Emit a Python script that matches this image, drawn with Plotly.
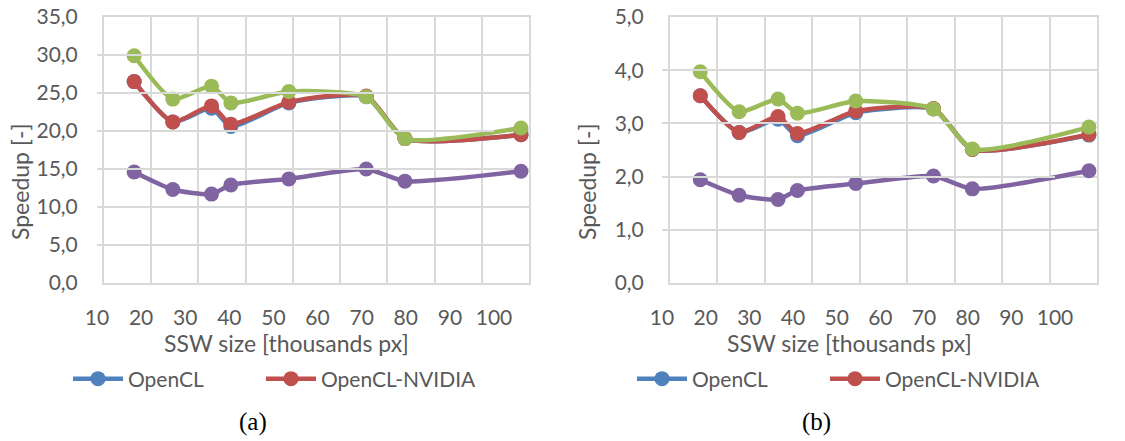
import plotly.graph_objects as go

W, H = 1125, 441

# SSW sizes in thousands of px
ssw = [16.384, 24.576, 32.768, 36.864, 49.152, 65.536, 73.728, 98.304]

# (a)
a_opencl = [26.5, 21.2, 23.0, 20.6, 23.7, 24.5, 19.0, 19.5]
a_nvidia = [26.5, 21.2, 23.3, 20.9, 23.8, 24.6, 19.0, 19.5]
a_green = [29.9, 24.2, 25.9, 23.7, 25.2, 24.5, 19.0, 20.4]
a_purple = [14.6, 12.3, 11.7, 12.9, 13.7, 15.0, 13.4, 14.7]

# (b)
b_opencl = [3.52, 2.83, 3.08, 2.77, 3.20, 3.27, 2.51, 2.78]
b_nvidia = [3.52, 2.83, 3.13, 2.81, 3.23, 3.28, 2.51, 2.79]
b_green = [3.97, 3.22, 3.46, 3.19, 3.42, 3.27, 2.52, 2.93]
b_purple = [1.94, 1.65, 1.57, 1.74, 1.87, 2.01, 1.77, 2.11]

x_ticks = [10, 20, 30, 40, 50, 60, 70, 80, 90, 100]

C_BLUE = "#4F81BD"
C_RED = "#C0504D"
C_GREEN = "#9BBB59"
C_PURPLE = "#8064A2"
GRID = "#D9D9D9"
TXT = "#595959"
FONT = "Lato"

def px_x(p):
    return p / W

def px_y(p):
    return (H - p) / H

fig = go.Figure()

def add_series(xa, ya, vals, color, name, show, legend):
    fig.add_trace(go.Scatter(
        x=ssw, y=vals, xaxis=xa, yaxis=ya, name=name,
        mode="lines+markers",
        line=dict(color=color, width=4.5, shape="spline", smoothing=0.6),
        marker=dict(color=color, size=15),
        showlegend=show, legend=legend, hoverinfo="skip",
    ))

add_series("x", "y", a_opencl, C_BLUE, "OpenCL", True, "legend")
add_series("x", "y", a_nvidia, C_RED, "OpenCL-NVIDIA", True, "legend2")
add_series("x", "y", a_green, C_GREEN, "series3", False, "legend")
add_series("x", "y", a_purple, C_PURPLE, "series4", False, "legend")

add_series("x2", "y2", b_opencl, C_BLUE, "OpenCL", True, "legend3")
add_series("x2", "y2", b_nvidia, C_RED, "OpenCL-NVIDIA", True, "legend4")
add_series("x2", "y2", b_green, C_GREEN, "series3", False, "legend3")
add_series("x2", "y2", b_purple, C_PURPLE, "series4", False, "legend3")

# invisible traces carrying the tick-label axes
fig.add_trace(go.Scatter(x=[10, 100], y=[-50, -50], xaxis="x3", yaxis="y",
                         mode="lines", opacity=0, showlegend=False, hoverinfo="skip"))
fig.add_trace(go.Scatter(x=[10, 100], y=[-50, -50], xaxis="x4", yaxis="y2",
                         mode="lines", opacity=0, showlegend=False, hoverinfo="skip"))

grid_x = dict(range=[10, 100], dtick=10, tick0=10, showgrid=True, gridcolor=GRID,
              gridwidth=2, showline=True, linecolor=GRID, linewidth=2, mirror=True,
              showticklabels=False, ticks="", zeroline=False)
grid_y = dict(showgrid=True, gridcolor=GRID, gridwidth=2, showline=True,
              linecolor=GRID, linewidth=2, mirror=True, ticks="", zeroline=False,
              tickformat=".1f", tickfont=dict(family=FONT, size=21, color=TXT),
              ticklabelstandoff=20)
lab_x = dict(range=[10, 100], tickvals=x_ticks, showgrid=False, showline=False,
             ticks="", zeroline=False, anchor="free", position=px_y(283),
             tickfont=dict(family=FONT, size=21, color=TXT), ticklabelstandoff=20)

def leg(xp):
    return dict(orientation="h", x=px_x(xp), xanchor="left", y=px_y(379), yanchor="middle",
                font=dict(family=FONT, size=21, color=TXT),
                bgcolor="rgba(0,0,0,0)", itemwidth=50)

fig.update_layout(
    width=W, height=H, margin=dict(l=0, r=0, t=0, b=0),
    paper_bgcolor="white", plot_bgcolor="rgba(0,0,0,0)", template="none",
    separators=", ",
    xaxis=dict(domain=[px_x(104), px_x(529)], anchor="y", **grid_x),
    yaxis=dict(domain=[px_y(283), px_y(17)], anchor="x", range=[0, 35], dtick=5, **grid_y),
    xaxis2=dict(domain=[px_x(670), px_x(1097)], anchor="y2", **grid_x),
    yaxis2=dict(domain=[px_y(283), px_y(17)], anchor="x2", range=[0, 5], dtick=1, **grid_y),
    xaxis3=dict(domain=[px_x(97), px_x(494)], **lab_x),
    xaxis4=dict(domain=[px_x(662), px_x(1055)], **lab_x),
    legend=leg(68), legend2=leg(261), legend3=leg(632), legend4=leg(825),
    showlegend=True,
)

ann_font = dict(family=FONT, size=23, color=TXT)
for xc, txt in [(286, "SSW size [thousands px]"), (849, "SSW size [thousands px]")]:
    fig.add_annotation(x=px_x(xc), y=px_y(343), xref="paper", yref="paper",
                       text=txt, showarrow=False, font=ann_font,
                       xanchor="center", yanchor="middle")
for xc in [20, 587]:
    fig.add_annotation(x=px_x(xc), y=px_y(182), xref="paper", yref="paper",
                       text="Speedup [-]", showarrow=False, font=ann_font, textangle=-90,
                       xanchor="center", yanchor="middle")
for xc, txt in [(253, "(a)"), (816, "(b)")]:
    fig.add_annotation(x=px_x(xc), y=px_y(422), xref="paper", yref="paper",
                       text=txt, showarrow=False,
                       font=dict(family="Liberation Serif", size=25, color="black"),
                       xanchor="center", yanchor="middle")

fig.write_html("out.html")
